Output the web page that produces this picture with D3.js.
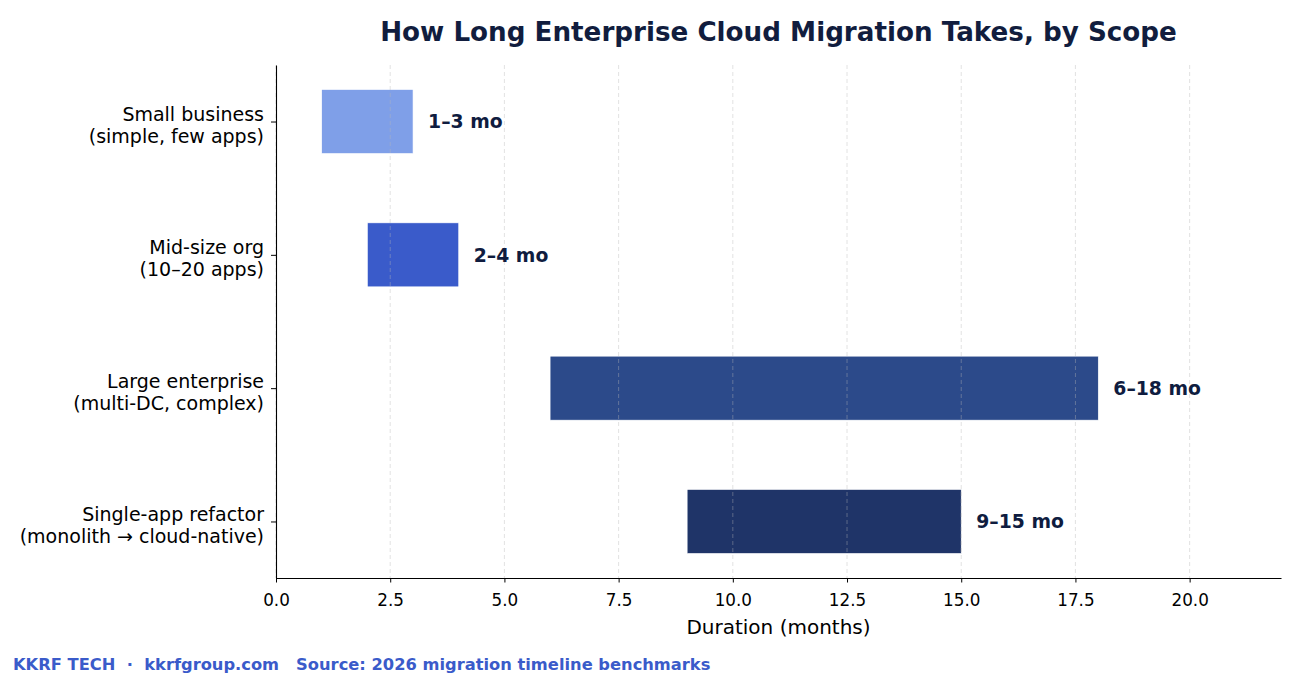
<!DOCTYPE html>
<html>
<head>
<meta charset="utf-8">
<script src="https://cdn.jsdelivr.net/npm/d3@7"></script>
<style>
  body { margin: 0; background: #fff; }
  svg { font-family: "DejaVu Sans", sans-serif; }
</style>
</head>
<body>
<script>
// data
const scopes = ["Small business\n(simple, few apps)", "Mid-size org\n(10–20 apps)", "Large enterprise\n(multi-DC, complex)", "Single-app refactor\n(monolith → cloud-native)"];
const startMonths = [1, 2, 6, 9];
const endMonths = [3, 4, 18, 15];
const rangeLabels = ["1–3 mo", "2–4 mo", "6–18 mo", "9–15 mo"];
const barColors = ["#7f9fe8", "#3a5bca", "#2c4a8a", "#1f3468"];
const xTicks = [0, 2.5, 5, 7.5, 10, 12.5, 15, 17.5, 20];

const width = 1300, height = 676;
const margin = {top: 65, right: 19, bottom: 98, left: 276};

const svg = d3.select("body").append("svg")
    .attr("width", width)
    .attr("height", height);

const x = d3.scaleLinear().domain([0, 22]).range([margin.left, width - margin.right]);
const y = d3.scaleLinear().domain([-0.424, 3.424]).range([margin.top, height - margin.bottom]);
const barH = 0.48;

// bars
svg.append("g")
    .selectAll("rect")
    .data(scopes)
    .join("rect")
    .attr("x", (d, i) => x(startMonths[i]))
    .attr("y", (d, i) => y(i - barH / 2))
    .attr("width", (d, i) => x(endMonths[i]) - x(startMonths[i]))
    .attr("height", y(barH) - y(0))
    .attr("fill", (d, i) => barColors[i])
    .attr("stroke", "#fff")
    .attr("stroke-width", 0.6);

// grid (drawn over the bars, faint)
svg.append("g")
    .selectAll("line")
    .data(xTicks)
    .join("line")
    .attr("x1", d => x(d)).attr("x2", d => x(d))
    .attr("y1", margin.top).attr("y2", height - margin.bottom)
    .attr("stroke", "#b8b8b8")
    .attr("stroke-opacity", 0.45)
    .attr("stroke-width", 0.9)
    .attr("stroke-dasharray", "4,3");

// value labels
svg.append("g")
    .selectAll("text")
    .data(rangeLabels)
    .join("text")
    .attr("x", (d, i) => x(endMonths[i] + 0.33))
    .attr("y", (d, i) => y(i))
    .attr("dy", "0.36em")
    .attr("font-size", 18.8)
    .attr("font-weight", "bold")
    .attr("fill", "#0f1c3f")
    .text(d => d);

// x axis
const xAxis = svg.append("g")
    .attr("transform", `translate(0,${height - margin.bottom})`)
    .call(d3.axisBottom(x).tickValues(xTicks).tickFormat(d3.format(".1f")).tickSize(4.5).tickSizeOuter(0).tickPadding(12));
xAxis.select(".domain").attr("stroke", "#000").attr("stroke-width", 1.1);
xAxis.selectAll(".tick line").attr("stroke", "#000");
xAxis.selectAll("text").attr("font-size", 16.8).attr("fill", "#000").attr("font-family", "DejaVu Sans");

// y axis
const yAxis = svg.append("g")
    .attr("transform", `translate(${margin.left},0)`)
    .call(d3.axisLeft(y).tickValues([0, 1, 2, 3]).tickFormat("").tickSize(5).tickSizeOuter(0));
yAxis.select(".domain").attr("stroke", "#000").attr("stroke-width", 1.1);
yAxis.selectAll(".tick line").attr("stroke", "#000");

// category labels
const cat = svg.append("g")
    .selectAll("text")
    .data(scopes)
    .join("text")
    .attr("text-anchor", "end")
    .attr("font-size", 19)
    .attr("fill", "#000")
    .attr("transform", (d, i) => `translate(${margin.left - 12},${y(i)})`);
cat.selectAll("tspan")
    .data(d => d.split("\n"))
    .join("tspan")
    .attr("x", 0)
    .attr("y", (d, j) => j === 0 ? -0.5 : 21.5)
    .text(d => d);

// axis title
svg.append("text")
    .attr("x", (margin.left + width - margin.right) / 2)
    .attr("y", 634)
    .attr("text-anchor", "middle")
    .attr("font-size", 20)
    .attr("fill", "#000")
    .text("Duration (months)");

// chart title
svg.append("text")
    .attr("x", (margin.left + width - margin.right) / 2)
    .attr("y", 41)
    .attr("text-anchor", "middle")
    .attr("font-size", 26.2)
    .attr("font-weight", "bold")
    .attr("fill", "#111d3e")
    .text("How Long Enterprise Cloud Migration Takes, by Scope");

// footer
svg.append("text")
    .attr("x", 13)
    .attr("y", 670)
    .attr("font-size", 16.3)
    .attr("font-weight", "bold")
    .attr("fill", "#3a5bca")
    .attr("xml:space", "preserve")
    .style("white-space", "pre")
    .text("KKRF TECH  ·  kkrfgroup.com   Source: 2026 migration timeline benchmarks");
</script>
</body>
</html>
